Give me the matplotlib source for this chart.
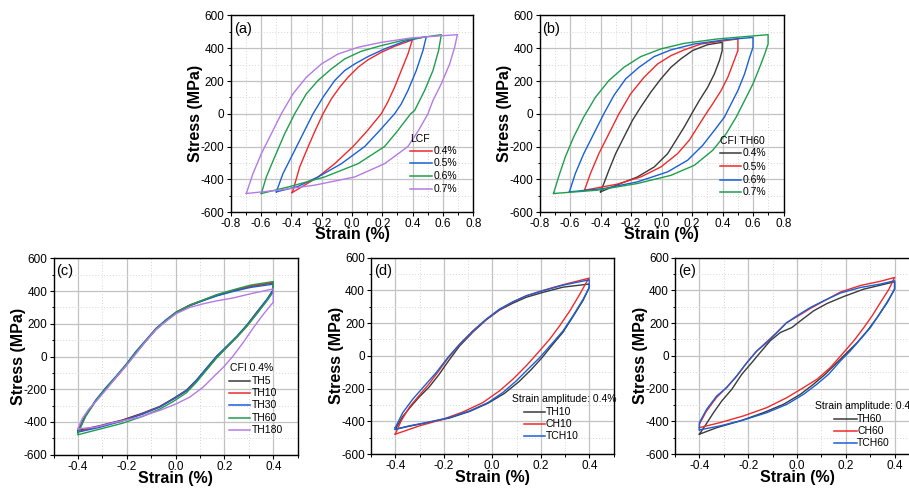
import matplotlib
matplotlib.use("Agg")
import matplotlib.pyplot as plt
from matplotlib.lines import Line2D
from matplotlib.ticker import MultipleLocator

plt.rcParams['font.family'] = ['Liberation Sans', 'DejaVu Sans']
plt.rcParams['axes.unicode_minus'] = False

RED = '#f02a2a'
BLUE = '#1a5fd8'
GREEN = '#1f9e4c'
PURPLE = '#b57ae6'
BLACK = '#3a3a3a'

# ---- (a) LCF ----
a04_strain = [-0.394, -0.385, -0.345, -0.29, -0.242, -0.191, -0.136, -0.081, -0.026, 0.04, 0.105, 0.193, 0.281, 0.398,
              0.369, 0.325, 0.281, 0.235, 0.193, 0.1, 0.007, -0.114, -0.224, -0.312, -0.394]
a04_stress = [-481, -455, -325, -203, -101, 0, 91, 162, 223, 284, 329, 375, 412, 451,
              365, 264, 162, 70, 0, -105, -200, -305, -386, -436, -481]
a05_strain = [-0.499, -0.455, -0.389, -0.323, -0.257, -0.191, -0.114, -0.048, 0.018, 0.105, 0.215, 0.347, 0.49,
              0.468, 0.424, 0.369, 0.325, 0.281, 0.18, 0.084, -0.07, -0.224, -0.36, -0.499]
a05_stress = [-477, -365, -244, -122, 0, 101, 203, 264, 304, 349, 396, 443, 471,
              386, 264, 142, 60, 0, -105, -200, -305, -386, -445, -477]
a06_strain = [-0.598, -0.565, -0.51, -0.444, -0.378, -0.301, -0.224, -0.136, -0.048, 0.062, 0.193, 0.347, 0.589,
              0.571, 0.534, 0.479, 0.413, 0.387, 0.3, 0.215, 0.04, -0.18, -0.42, -0.598]
a06_stress = [-487, -386, -264, -122, 0, 122, 203, 274, 335, 382, 416, 451, 483,
              386, 264, 142, 20, 0, -105, -200, -305, -386, -447, -487]
a07_strain = [-0.697, -0.653, -0.598, -0.532, -0.466, -0.389, -0.301, -0.202, -0.092, 0.04, 0.193, 0.391, 0.695,
              0.677, 0.644, 0.589, 0.534, 0.501, 0.44, 0.369, 0.215, 0.018, -0.246, -0.488, -0.697]
a07_stress = [-487, -365, -244, -122, 0, 122, 223, 304, 365, 406, 436, 463, 483,
              406, 304, 183, 81, 0, -100, -200, -305, -386, -436, -467, -487]

# ---- (b) CFI TH60 ----
b04_strain = [-0.4, -0.378, -0.345, -0.301, -0.246, -0.191, -0.136, -0.07, -0.004, 0.062, 0.127, 0.204, 0.303, 0.398,
              0.398, 0.38, 0.347, 0.303, 0.248, 0.198, 0.149, 0.095, 0.04, -0.048, -0.158, -0.268, -0.4]
b04_stress = [-477, -426, -345, -244, -142, -41, 41, 132, 213, 284, 335, 386, 422, 436,
              386, 325, 244, 162, 81, 0, -81, -162, -244, -325, -386, -426, -477]
b05_strain = [-0.505, -0.466, -0.411, -0.345, -0.279, -0.202, -0.114, -0.026, 0.062, 0.149, 0.259, 0.501,
              0.501, 0.468, 0.435, 0.391, 0.336, 0.292, 0.237, 0.182, 0.105, -0.004, -0.136, -0.29, -0.505]
b05_stress = [-467, -365, -244, -122, 0, 122, 223, 304, 355, 390, 426, 457,
              386, 304, 223, 142, 61, 0, -81, -162, -244, -325, -386, -430, -467]
b06_strain = [-0.604, -0.565, -0.51, -0.444, -0.378, -0.312, -0.235, -0.147, -0.048, 0.062, 0.215, 0.413, 0.6,
              0.6, 0.578, 0.545, 0.501, 0.446, 0.413, 0.347, 0.27, 0.171, 0.04, -0.158, -0.378, -0.604]
b06_stress = [-477, -365, -244, -122, 0, 112, 213, 284, 349, 390, 426, 451, 466,
              406, 345, 244, 142, 41, -20, -101, -193, -284, -355, -416, -457, -477]
b07_strain = [-0.708, -0.675, -0.631, -0.576, -0.51, -0.433, -0.345, -0.246, -0.136, -0.004, 0.149, 0.369, 0.699,
              0.699, 0.677, 0.644, 0.6, 0.545, 0.49, 0.424, 0.336, 0.215, 0.062, -0.158, -0.422, -0.708]
b07_stress = [-487, -386, -264, -142, -20, 101, 203, 284, 349, 396, 430, 457, 483,
              426, 365, 284, 183, 81, -20, -122, -223, -315, -376, -426, -467, -487]

# ---- (c) CFI 0.4% ----
c_th5_strain = [-0.4, -0.369, -0.328, -0.287, -0.245, -0.204, -0.163, -0.121, -0.08, -0.039, 0.003, 0.058, 0.113, 0.168, 0.237, 0.306, 0.4,
                0.4, 0.375, 0.333, 0.292, 0.251, 0.209, 0.168, 0.127, 0.085, 0.044, -0.011, -0.066, -0.135, -0.218, -0.314, -0.4]
c_th5_stress = [-452, -360, -275, -200, -130, -58, 22, 95, 165, 218, 268, 310, 342, 372, 402, 428, 450,
                410, 350, 272, 192, 122, 60, 0, -72, -145, -206, -258, -306, -346, -388, -424, -452]
c_th10_strain = [-0.4, -0.369, -0.328, -0.287, -0.245, -0.204, -0.163, -0.121, -0.08, -0.039, 0.003, 0.058, 0.113, 0.168, 0.237, 0.306, 0.4,
                 0.4, 0.375, 0.333, 0.292, 0.251, 0.209, 0.168, 0.127, 0.085, 0.044, -0.011, -0.066, -0.135, -0.218, -0.314, -0.4]
c_th10_stress = [-458, -365, -272, -196, -128, -55, 25, 98, 170, 222, 272, 315, 345, 375, 405, 430, 452,
                 400, 345, 262, 185, 118, 55, -8, -80, -150, -210, -262, -308, -350, -392, -428, -458]
c_th30_strain = [-0.4, -0.369, -0.328, -0.287, -0.245, -0.204, -0.163, -0.121, -0.08, -0.039, 0.003, 0.058, 0.113, 0.168, 0.237, 0.306, 0.4,
                 0.4, 0.375, 0.333, 0.292, 0.251, 0.209, 0.168, 0.127, 0.085, 0.044, -0.011, -0.066, -0.135, -0.218, -0.314, -0.4]
c_th30_stress = [-462, -362, -268, -192, -122, -50, 30, 102, 172, 225, 272, 312, 342, 370, 398, 422, 442,
                 405, 352, 270, 192, 124, 62, 2, -70, -146, -210, -262, -310, -352, -394, -434, -462]
c_th60_strain = [-0.4, -0.369, -0.328, -0.287, -0.245, -0.204, -0.163, -0.121, -0.08, -0.039, 0.003, 0.058, 0.113, 0.168, 0.237, 0.306, 0.4,
                 0.4, 0.375, 0.333, 0.292, 0.251, 0.209, 0.168, 0.127, 0.085, 0.044, -0.011, -0.066, -0.135, -0.218, -0.314, -0.4]
c_th60_stress = [-470, -368, -272, -198, -126, -54, 24, 96, 168, 220, 270, 314, 346, 378, 408, 436, 458,
                 395, 342, 262, 185, 118, 55, -8, -82, -158, -222, -276, -322, -366, -408, -445, -478]
c_th180_strain = [-0.4, -0.383, -0.355, -0.32, -0.28, -0.245, -0.204, -0.163, -0.121, -0.08, -0.039, 0.003, 0.058, 0.113, 0.168, 0.237, 0.306, 0.4,
                  0.4, 0.361, 0.32, 0.278, 0.237, 0.196, 0.154, 0.113, 0.058, 0.003, -0.066, -0.149, -0.245, -0.328, -0.4]
c_th180_stress = [-442, -381, -320, -265, -195, -130, -60, 15, 95, 165, 215, 262, 300, 322, 340, 358, 383, 413,
                  332, 261, 179, 88, 6, -65, -126, -187, -248, -289, -330, -371, -401, -432, -442]

# ---- (d) strain amplitude 0.4%, 10 ----
d_th_strain = [-0.4, -0.369, -0.33, -0.3, -0.26, -0.22, -0.18, -0.135, -0.08, -0.025, 0.03, 0.085, 0.14, 0.209, 0.292, 0.4,
               0.4, 0.375, 0.333, 0.292, 0.244, 0.206, 0.16, 0.11, 0.05, -0.018, -0.094, -0.176, -0.273, -0.342, -0.4]
d_th_stress = [-449, -370, -300, -250, -190, -115, -30, 60, 145, 220, 280, 322, 358, 388, 420, 439,
               418, 340, 240, 145, 60, -10, -85, -158, -230, -290, -340, -380, -410, -430, -449]
d_ch_strain = [-0.4, -0.376, -0.34, -0.3, -0.26, -0.222, -0.183, -0.135, -0.08, -0.025, 0.03, 0.085, 0.14, 0.209, 0.292, 0.4,
               0.388, 0.361, 0.32, 0.278, 0.237, 0.189, 0.14, 0.085, 0.03, -0.039, -0.121, -0.204, -0.3, -0.4]
d_ch_stress = [-479, -398, -310, -240, -170, -95, -15, 68, 150, 222, 283, 330, 367, 400, 435, 475,
               449, 377, 275, 184, 102, 20, -61, -143, -214, -286, -343, -388, -428, -479]
d_tch_strain = [-0.4, -0.369, -0.328, -0.28, -0.231, -0.183, -0.135, -0.08, -0.025, 0.03, 0.085, 0.14, 0.209, 0.292, 0.4,
                0.4, 0.375, 0.333, 0.292, 0.244, 0.196, 0.147, 0.099, 0.044, -0.018, -0.094, -0.176, -0.273, -0.342, -0.4, -0.4]
d_tch_stress = [-439, -347, -265, -184, -102, -10, 71, 153, 224, 286, 330, 367, 398, 432, 465,
                418, 347, 245, 153, 71, -10, -82, -153, -224, -286, -337, -377, -408, -428, -449, -439]

# ---- (e) strain amplitude 0.4%, 60 ----
e_th_strain = [-0.4, -0.377, -0.342, -0.308, -0.267, -0.226, -0.185, -0.151, -0.11, -0.068, -0.021, 0.014, 0.068, 0.123, 0.192, 0.274, 0.342, 0.4,
               0.4, 0.37, 0.329, 0.288, 0.247, 0.205, 0.164, 0.116, 0.068, 0.014, -0.055, -0.137, -0.233, -0.329, -0.4]
e_th_stress = [-479, -428, -347, -275, -204, -112, -41, 20, 92, 143, 173, 214, 275, 320, 363, 408, 432, 453,
               408, 326, 235, 153, 82, 20, -41, -112, -173, -235, -296, -347, -398, -439, -479]
e_ch_strain = [-0.4, -0.4, -0.372, -0.33, -0.29, -0.25, -0.21, -0.168, -0.127, -0.085, -0.045, 0.0, 0.055, 0.11, 0.178, 0.26, 0.342, 0.4,
               0.377, 0.342, 0.308, 0.274, 0.233, 0.185, 0.137, 0.082, 0.027, -0.041, -0.123, -0.219, -0.315, -0.4]
e_ch_stress = [-439, -418, -340, -255, -195, -130, -50, 25, 82, 140, 200, 240, 290, 335, 390, 430, 456, 479,
               408, 326, 245, 173, 92, 10, -71, -143, -194, -255, -316, -367, -408, -439]
e_tch_strain = [-0.4, -0.4, -0.37, -0.329, -0.288, -0.247, -0.205, -0.164, -0.123, -0.082, -0.041, 0.0, 0.055, 0.11, 0.178, 0.26, 0.342, 0.4,
                0.4, 0.377, 0.342, 0.301, 0.26, 0.219, 0.178, 0.13, 0.082, 0.027, -0.041, -0.123, -0.219, -0.315, -0.4]
e_tch_stress = [-453, -408, -326, -245, -194, -122, -41, 31, 82, 143, 204, 245, 296, 337, 384, 418, 439, 459,
                408, 347, 265, 173, 102, 31, -31, -112, -173, -235, -296, -347, -392, -428, -453]

W, H = 909, 490
fig = plt.figure(figsize=(W / 100, H / 100), dpi=100)


def make_ax(left, right, top, bottom, xlim, xstep, xminor):
    ax = fig.add_axes([left / W, 1 - bottom / H, (right - left) / W, (bottom - top) / H])
    ax.set_xlim(*xlim)
    ax.set_ylim(-600, 600)
    ax.xaxis.set_major_locator(MultipleLocator(xstep))
    ax.xaxis.set_minor_locator(MultipleLocator(xminor))
    ax.yaxis.set_major_locator(MultipleLocator(200))
    ax.yaxis.set_minor_locator(MultipleLocator(100))
    ax.grid(True, which='major', color='#c2c2c2', lw=0.9)
    ax.grid(True, which='minor', color='#d6d6d6', lw=0.7, ls=(0, (1, 2)))
    ax.set_axisbelow(True)
    ax.tick_params(which='major', direction='out', length=3, width=0.8, pad=1.5, labelsize=8.5)
    ax.tick_params(which='minor', direction='out', length=1.8, width=0.7)
    for s in ax.spines.values():
        s.set_linewidth(1.0)
    ax.set_xlabel('Strain (%)', fontsize=11.5, fontweight='bold')
    ax.set_ylabel('Stress (MPa)', fontsize=11.5, fontweight='bold')
    ax.xaxis.label.set_va('center')
    ax.yaxis.label.set_va('center')
    return ax


def legend(title, tx, ty, x0, x1, xt, rows, labels, colors):
    fig.text(tx / W, 1 - ty / H, title, fontsize=7.5, va='center', ha='left')
    for y, lab, c in zip(rows, labels, colors):
        fig.add_artist(Line2D([x0 / W, x1 / W], [1 - y / H, 1 - y / H], color=c, lw=1.1))
        fig.text(xt / W, 1 - y / H, lab, fontsize=7.5, va='center', ha='left')


axes_px = {
    'a': (230.7, 473.3, 15.5, 212.0),
    'b': (539.5, 783.5, 15.5, 212.0),
    'c': (53.5, 297.7, 258.3, 454.7),
    'd': (371.0, 613.5, 257.7, 454.0),
    'e': (675.0, 919.0, 257.7, 454.0),
}

ax_a = make_ax(*axes_px['a'], (-0.8, 0.8), 0.2, 0.1)
ax_b = make_ax(*axes_px['b'], (-0.8, 0.8), 0.2, 0.1)
ax_c = make_ax(*axes_px['c'], (-0.5, 0.5), 0.2, 0.1)
ax_d = make_ax(*axes_px['d'], (-0.5, 0.5), 0.2, 0.1)
ax_e = make_ax(*axes_px['e'], (-0.5, 0.5), 0.2, 0.1)

lw = 1.0
ax_a.plot(a04_strain, a04_stress, color=RED, lw=lw)
ax_a.plot(a05_strain, a05_stress, color=BLUE, lw=lw)
ax_a.plot(a06_strain, a06_stress, color=GREEN, lw=lw)
ax_a.plot(a07_strain, a07_stress, color=PURPLE, lw=lw)

ax_b.plot(b04_strain, b04_stress, color=BLACK, lw=lw)
ax_b.plot(b05_strain, b05_stress, color=RED, lw=lw)
ax_b.plot(b06_strain, b06_stress, color=BLUE, lw=lw)
ax_b.plot(b07_strain, b07_stress, color=GREEN, lw=lw)

ax_c.plot(c_th5_strain, c_th5_stress, color=BLACK, lw=lw)
ax_c.plot(c_th10_strain, c_th10_stress, color=RED, lw=lw)
ax_c.plot(c_th30_strain, c_th30_stress, color=BLUE, lw=lw)
ax_c.plot(c_th60_strain, c_th60_stress, color=GREEN, lw=lw)
ax_c.plot(c_th180_strain, c_th180_stress, color=PURPLE, lw=lw)

ax_d.plot(d_th_strain, d_th_stress, color=BLACK, lw=lw)
ax_d.plot(d_ch_strain, d_ch_stress, color=RED, lw=lw)
ax_d.plot(d_tch_strain, d_tch_stress, color=BLUE, lw=lw)

ax_e.plot(e_th_strain, e_th_stress, color=BLACK, lw=lw)
ax_e.plot(e_ch_strain, e_ch_stress, color=RED, lw=lw)
ax_e.plot(e_tch_strain, e_tch_stress, color=BLUE, lw=lw)

# panel letters and label positions (pixel offsets)
for key, ax, letter in [('a', ax_a, '(a)'), ('b', ax_b, '(b)'), ('c', ax_c, '(c)'),
                        ('d', ax_d, '(d)'), ('e', ax_e, '(e)')]:
    l, r, t, b = axes_px[key]
    w, h = r - l, b - t
    ax.text(3 / w, 1 - 13 / h, letter, transform=ax.transAxes, fontsize=10.5, va='center', ha='left')
    ax.yaxis.set_label_coords(-35 / w, 0.5)
    xoff = 22.5 if key in 'ab' else 23.5
    ax.xaxis.set_label_coords(0.5, -xoff / h)

legend('LCF', 409.7, 139, 409.7, 432, 434, [151, 163.5, 176, 188.5],
       ['0.4%', '0.5%', '0.6%', '0.7%'], [RED, BLUE, GREEN, PURPLE])
legend('CFI TH60', 719.7, 140.7, 719.7, 741.3, 742.5, [153.3, 166.5, 179.5, 191.7],
       ['0.4%', '0.5%', '0.6%', '0.7%'], [BLACK, RED, BLUE, GREEN])
legend('CFI 0.4%', 230, 367.7, 229, 250, 251.7, [381, 393, 405, 417.5, 430],
       ['TH5', 'TH10', 'TH30', 'TH60', 'TH180'], [BLACK, RED, BLUE, GREEN, PURPLE])
legend('Strain amplitude: 0.4%', 511.7, 399.3, 524, 545, 545.7, [411.7, 423.7, 436],
       ['TH10', 'CH10', 'TCH10'], [BLACK, RED, BLUE])
legend('Strain amplitude: 0.4%', 814.7, 406, 834, 856.7, 857.3, [419.3, 431, 442.7],
       ['TH60', 'CH60', 'TCH60'], [BLACK, RED, BLUE])

fig.savefig('out.png', dpi=100)
